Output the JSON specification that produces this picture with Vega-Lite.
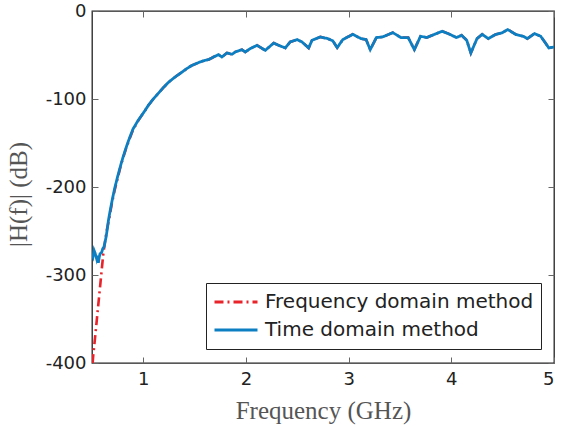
{
  "$schema": "https://vega.github.io/schema/vega-lite/v6.json",
  "width": 462,
  "height": 352,
  "autosize": "none",
  "padding": {"left": 92, "top": 11, "right": 7, "bottom": 64},
  "background": "white",
  "config": {
    "view": {"stroke": "#222", "strokeWidth": 1.3},
    "axis": {
      "grid": false,
      "domain": false,
      "tickSize": -6,
      "tickColor": "#666",
      "tickWidth": 1,
      "labelFont": "DejaVu Sans",
      "labelFontSize": 18,
      "labelColor": "#222",
      "titleFont": "Liberation Serif",
      "titleFontSize": 25,
      "titleFontWeight": "normal",
      "titleColor": "#555"
    }
  },
  "datasets": {
    "curves": [
      {"f": 0.506, "db": -400, "method": "Frequency domain method"},
      {"f": 0.513, "db": -390, "method": "Frequency domain method"},
      {"f": 0.530, "db": -371, "method": "Frequency domain method"},
      {"f": 0.546, "db": -352, "method": "Frequency domain method"},
      {"f": 0.562, "db": -333, "method": "Frequency domain method"},
      {"f": 0.578, "db": -314, "method": "Frequency domain method"},
      {"f": 0.594, "db": -295, "method": "Frequency domain method"},
      {"f": 0.610, "db": -276, "method": "Frequency domain method"},
      {"f": 0.627, "db": -262, "method": "Frequency domain method"},
      {"f": 0.644, "db": -249, "method": "Frequency domain method"},
      {"f": 0.669, "db": -235, "method": "Frequency domain method"},
      {"f": 0.690, "db": -221, "method": "Frequency domain method"},
      {"f": 0.720, "db": -204, "method": "Frequency domain method"},
      {"f": 0.750, "db": -190, "method": "Frequency domain method"},
      {"f": 0.780, "db": -176, "method": "Frequency domain method"},
      {"f": 0.800, "db": -168, "method": "Frequency domain method"},
      {"f": 0.830, "db": -157, "method": "Frequency domain method"},
      {"f": 0.860, "db": -147, "method": "Frequency domain method"},
      {"f": 0.900, "db": -135, "method": "Frequency domain method"},
      {"f": 0.951, "db": -124.5, "method": "Frequency domain method"},
      {"f": 1.017, "db": -113, "method": "Frequency domain method"},
      {"f": 1.050, "db": -107, "method": "Frequency domain method"},
      {"f": 1.097, "db": -100, "method": "Frequency domain method"},
      {"f": 1.150, "db": -93, "method": "Frequency domain method"},
      {"f": 1.195, "db": -87, "method": "Frequency domain method"},
      {"f": 1.250, "db": -80.5, "method": "Frequency domain method"},
      {"f": 1.309, "db": -75, "method": "Frequency domain method"},
      {"f": 1.370, "db": -70, "method": "Frequency domain method"},
      {"f": 1.423, "db": -65.5, "method": "Frequency domain method"},
      {"f": 1.470, "db": -62, "method": "Frequency domain method"},
      {"f": 1.520, "db": -59.5, "method": "Frequency domain method"},
      {"f": 1.550, "db": -58, "method": "Frequency domain method"},
      {"f": 1.602, "db": -56, "method": "Frequency domain method"},
      {"f": 1.640, "db": -55, "method": "Frequency domain method"},
      {"f": 1.683, "db": -52.3, "method": "Frequency domain method"},
      {"f": 1.732, "db": -49.6, "method": "Frequency domain method"},
      {"f": 1.765, "db": -52.3, "method": "Frequency domain method"},
      {"f": 1.814, "db": -47.7, "method": "Frequency domain method"},
      {"f": 1.863, "db": -49.2, "method": "Frequency domain method"},
      {"f": 1.895, "db": -46.6, "method": "Frequency domain method"},
      {"f": 1.960, "db": -43.9, "method": "Frequency domain method"},
      {"f": 1.993, "db": -46.6, "method": "Frequency domain method"},
      {"f": 2.040, "db": -42.8, "method": "Frequency domain method"},
      {"f": 2.107, "db": -39, "method": "Frequency domain method"},
      {"f": 2.188, "db": -44.7, "method": "Frequency domain method"},
      {"f": 2.270, "db": -36.4, "method": "Frequency domain method"},
      {"f": 2.318, "db": -39, "method": "Frequency domain method"},
      {"f": 2.383, "db": -42, "method": "Frequency domain method"},
      {"f": 2.430, "db": -35.2, "method": "Frequency domain method"},
      {"f": 2.497, "db": -32.5, "method": "Frequency domain method"},
      {"f": 2.546, "db": -35.2, "method": "Frequency domain method"},
      {"f": 2.610, "db": -42, "method": "Frequency domain method"},
      {"f": 2.643, "db": -33.3, "method": "Frequency domain method"},
      {"f": 2.724, "db": -29.5, "method": "Frequency domain method"},
      {"f": 2.797, "db": -31.4, "method": "Frequency domain method"},
      {"f": 2.846, "db": -34, "method": "Frequency domain method"},
      {"f": 2.888, "db": -41.6, "method": "Frequency domain method"},
      {"f": 2.943, "db": -32.5, "method": "Frequency domain method"},
      {"f": 3.040, "db": -26.5, "method": "Frequency domain method"},
      {"f": 3.120, "db": -31.4, "method": "Frequency domain method"},
      {"f": 3.170, "db": -32.5, "method": "Frequency domain method"},
      {"f": 3.210, "db": -43.9, "method": "Frequency domain method"},
      {"f": 3.270, "db": -30.2, "method": "Frequency domain method"},
      {"f": 3.330, "db": -29.5, "method": "Frequency domain method"},
      {"f": 3.430, "db": -24.6, "method": "Frequency domain method"},
      {"f": 3.510, "db": -30.2, "method": "Frequency domain method"},
      {"f": 3.580, "db": -30.2, "method": "Frequency domain method"},
      {"f": 3.640, "db": -43.9, "method": "Frequency domain method"},
      {"f": 3.700, "db": -28.7, "method": "Frequency domain method"},
      {"f": 3.760, "db": -30.2, "method": "Frequency domain method"},
      {"f": 3.910, "db": -23, "method": "Frequency domain method"},
      {"f": 3.970, "db": -25.7, "method": "Frequency domain method"},
      {"f": 4.050, "db": -30.2, "method": "Frequency domain method"},
      {"f": 4.100, "db": -27.6, "method": "Frequency domain method"},
      {"f": 4.150, "db": -33.3, "method": "Frequency domain method"},
      {"f": 4.190, "db": -47.7, "method": "Frequency domain method"},
      {"f": 4.250, "db": -31.4, "method": "Frequency domain method"},
      {"f": 4.300, "db": -26.5, "method": "Frequency domain method"},
      {"f": 4.360, "db": -31.4, "method": "Frequency domain method"},
      {"f": 4.430, "db": -26.8, "method": "Frequency domain method"},
      {"f": 4.490, "db": -25, "method": "Frequency domain method"},
      {"f": 4.550, "db": -21.1, "method": "Frequency domain method"},
      {"f": 4.630, "db": -26.8, "method": "Frequency domain method"},
      {"f": 4.700, "db": -28.7, "method": "Frequency domain method"},
      {"f": 4.740, "db": -31.4, "method": "Frequency domain method"},
      {"f": 4.810, "db": -25.7, "method": "Frequency domain method"},
      {"f": 4.870, "db": -28.7, "method": "Frequency domain method"},
      {"f": 4.910, "db": -35.2, "method": "Frequency domain method"},
      {"f": 4.950, "db": -42, "method": "Frequency domain method"},
      {"f": 5.000, "db": -40.9, "method": "Frequency domain method"},
      {"f": 0.500, "db": -276, "method": "Time domain method"},
      {"f": 0.510, "db": -279, "method": "Time domain method"},
      {"f": 0.520, "db": -272, "method": "Time domain method"},
      {"f": 0.530, "db": -275, "method": "Time domain method"},
      {"f": 0.546, "db": -282, "method": "Time domain method"},
      {"f": 0.555, "db": -278, "method": "Time domain method"},
      {"f": 0.562, "db": -286, "method": "Time domain method"},
      {"f": 0.570, "db": -280, "method": "Time domain method"},
      {"f": 0.578, "db": -276, "method": "Time domain method"},
      {"f": 0.595, "db": -274, "method": "Time domain method"},
      {"f": 0.605, "db": -270, "method": "Time domain method"},
      {"f": 0.617, "db": -268, "method": "Time domain method"},
      {"f": 0.628, "db": -262, "method": "Time domain method"},
      {"f": 0.637, "db": -257, "method": "Time domain method"},
      {"f": 0.650, "db": -247, "method": "Time domain method"},
      {"f": 0.660, "db": -238, "method": "Time domain method"},
      {"f": 0.680, "db": -225, "method": "Time domain method"},
      {"f": 0.700, "db": -213, "method": "Time domain method"},
      {"f": 0.720, "db": -202, "method": "Time domain method"},
      {"f": 0.750, "db": -188, "method": "Time domain method"},
      {"f": 0.780, "db": -175, "method": "Time domain method"},
      {"f": 0.800, "db": -167, "method": "Time domain method"},
      {"f": 0.830, "db": -156, "method": "Time domain method"},
      {"f": 0.860, "db": -146, "method": "Time domain method"},
      {"f": 0.900, "db": -134, "method": "Time domain method"},
      {"f": 0.951, "db": -124, "method": "Time domain method"},
      {"f": 1.017, "db": -113, "method": "Time domain method"},
      {"f": 1.050, "db": -107, "method": "Time domain method"},
      {"f": 1.097, "db": -100, "method": "Time domain method"},
      {"f": 1.150, "db": -93, "method": "Time domain method"},
      {"f": 1.195, "db": -87, "method": "Time domain method"},
      {"f": 1.250, "db": -80.5, "method": "Time domain method"},
      {"f": 1.309, "db": -75, "method": "Time domain method"},
      {"f": 1.370, "db": -70, "method": "Time domain method"},
      {"f": 1.423, "db": -65.5, "method": "Time domain method"},
      {"f": 1.470, "db": -62, "method": "Time domain method"},
      {"f": 1.520, "db": -59.5, "method": "Time domain method"},
      {"f": 1.550, "db": -58, "method": "Time domain method"},
      {"f": 1.602, "db": -56, "method": "Time domain method"},
      {"f": 1.640, "db": -55, "method": "Time domain method"},
      {"f": 1.683, "db": -52.3, "method": "Time domain method"},
      {"f": 1.732, "db": -49.6, "method": "Time domain method"},
      {"f": 1.765, "db": -52.3, "method": "Time domain method"},
      {"f": 1.814, "db": -47.7, "method": "Time domain method"},
      {"f": 1.863, "db": -49.2, "method": "Time domain method"},
      {"f": 1.895, "db": -46.6, "method": "Time domain method"},
      {"f": 1.960, "db": -43.9, "method": "Time domain method"},
      {"f": 1.993, "db": -46.6, "method": "Time domain method"},
      {"f": 2.040, "db": -42.8, "method": "Time domain method"},
      {"f": 2.107, "db": -39, "method": "Time domain method"},
      {"f": 2.188, "db": -44.7, "method": "Time domain method"},
      {"f": 2.270, "db": -36.4, "method": "Time domain method"},
      {"f": 2.318, "db": -39, "method": "Time domain method"},
      {"f": 2.383, "db": -42, "method": "Time domain method"},
      {"f": 2.430, "db": -35.2, "method": "Time domain method"},
      {"f": 2.497, "db": -32.5, "method": "Time domain method"},
      {"f": 2.546, "db": -35.2, "method": "Time domain method"},
      {"f": 2.610, "db": -42, "method": "Time domain method"},
      {"f": 2.643, "db": -33.3, "method": "Time domain method"},
      {"f": 2.724, "db": -29.5, "method": "Time domain method"},
      {"f": 2.797, "db": -31.4, "method": "Time domain method"},
      {"f": 2.846, "db": -34, "method": "Time domain method"},
      {"f": 2.888, "db": -41.6, "method": "Time domain method"},
      {"f": 2.943, "db": -32.5, "method": "Time domain method"},
      {"f": 3.040, "db": -26.5, "method": "Time domain method"},
      {"f": 3.120, "db": -31.4, "method": "Time domain method"},
      {"f": 3.170, "db": -32.5, "method": "Time domain method"},
      {"f": 3.210, "db": -43.9, "method": "Time domain method"},
      {"f": 3.270, "db": -30.2, "method": "Time domain method"},
      {"f": 3.330, "db": -29.5, "method": "Time domain method"},
      {"f": 3.430, "db": -24.6, "method": "Time domain method"},
      {"f": 3.510, "db": -30.2, "method": "Time domain method"},
      {"f": 3.580, "db": -30.2, "method": "Time domain method"},
      {"f": 3.640, "db": -43.9, "method": "Time domain method"},
      {"f": 3.700, "db": -28.7, "method": "Time domain method"},
      {"f": 3.760, "db": -30.2, "method": "Time domain method"},
      {"f": 3.910, "db": -23, "method": "Time domain method"},
      {"f": 3.970, "db": -25.7, "method": "Time domain method"},
      {"f": 4.050, "db": -30.2, "method": "Time domain method"},
      {"f": 4.100, "db": -27.6, "method": "Time domain method"},
      {"f": 4.150, "db": -33.3, "method": "Time domain method"},
      {"f": 4.190, "db": -47.7, "method": "Time domain method"},
      {"f": 4.250, "db": -31.4, "method": "Time domain method"},
      {"f": 4.300, "db": -26.5, "method": "Time domain method"},
      {"f": 4.360, "db": -31.4, "method": "Time domain method"},
      {"f": 4.430, "db": -26.8, "method": "Time domain method"},
      {"f": 4.490, "db": -25, "method": "Time domain method"},
      {"f": 4.550, "db": -21.1, "method": "Time domain method"},
      {"f": 4.630, "db": -26.8, "method": "Time domain method"},
      {"f": 4.700, "db": -28.7, "method": "Time domain method"},
      {"f": 4.740, "db": -31.4, "method": "Time domain method"},
      {"f": 4.810, "db": -25.7, "method": "Time domain method"},
      {"f": 4.870, "db": -28.7, "method": "Time domain method"},
      {"f": 4.910, "db": -35.2, "method": "Time domain method"},
      {"f": 4.950, "db": -42, "method": "Time domain method"},
      {"f": 5.000, "db": -40.9, "method": "Time domain method"}
    ]
  },
  "data": {"name": "curves"},
  "layer": [
    {
      "mark": {"type": "point", "opacity": 0},
      "encoding": {
        "x": {"field": "f", "type": "quantitative",
              "scale": {"domain": [0.5, 5], "nice": false, "zero": false},
              "axis": {"orient": "top", "values": [1, 2, 3, 4, 5], "labels": false, "title": null}},
        "y": {"field": "db", "type": "quantitative",
              "scale": {"domain": [-400, 0], "nice": false, "zero": false},
              "axis": {"orient": "right", "values": [-400, -300, -200, -100, 0], "labels": false, "title": null}}
      }
    },
    {
      "transform": [{"filter": "datum.method === 'Frequency domain method'"}],
      "mark": {"type": "line", "strokeWidth": 2.6, "clip": true},
      "encoding": {
        "x": {"field": "f", "type": "quantitative",
              "scale": {"domain": [0.5, 5], "nice": false, "zero": false},
              "axis": {"orient": "bottom", "values": [1, 2, 3, 4, 5], "labelPadding": 13,
                       "title": "Frequency (GHz)", "titleBaseline": "alphabetic", "titleY": 55}},
        "y": {"field": "db", "type": "quantitative",
              "scale": {"domain": [-400, 0], "nice": false, "zero": false},
              "axis": {"orient": "left", "values": [-400, -300, -200, -100, 0], "labelPadding": 12,
                       "labelExpr": "replace(datum.label, '\u2212', '-')",
                       "title": "|H(f)| (dB)", "titleBaseline": "alphabetic", "titleX": -66, "titleY": 183}},
        "color": {"field": "method", "type": "nominal",
                  "scale": {"domain": ["Frequency domain method", "Time domain method"], "range": ["#E8232A", "#0C7EC2"]},
                  "legend": {"title": null, "orient": "none", "legendX": 114, "legendY": 272,
                             "strokeColor": "#222", "fillColor": "white", "padding": 7,
                             "labelFont": "DejaVu Sans", "labelFontSize": 20, "labelColor": "#222", "labelLimit": 400,
                             "symbolType": "stroke", "symbolSize": 1850, "symbolStrokeWidth": 2.8,
                             "clipHeight": 24, "rowPadding": 4, "labelOffset": 6}},
        "strokeDash": {"field": "method", "type": "nominal",
                       "scale": {"domain": ["Frequency domain method", "Time domain method"], "range": [[9, 4, 2, 4], [1, 0]]},
                       "legend": {"title": null, "orient": "none", "legendX": 114, "legendY": 272}}
      }
    },
    {
      "transform": [{"filter": "datum.method === 'Time domain method'"}],
      "mark": {"type": "line", "strokeWidth": 2.8, "clip": true},
      "encoding": {
        "x": {"field": "f", "type": "quantitative", "axis": null},
        "y": {"field": "db", "type": "quantitative", "axis": null},
        "color": {"field": "method", "type": "nominal"},
        "strokeDash": {"field": "method", "type": "nominal"}
      }
    }
  ],
  "resolve": {"axis": {"x": "independent", "y": "independent"}}
}
